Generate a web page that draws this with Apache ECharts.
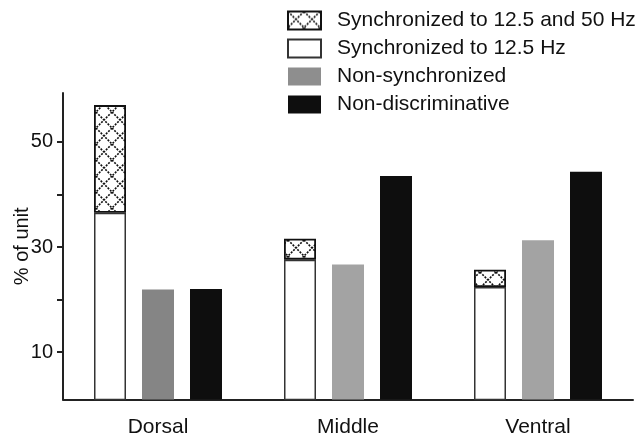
<!DOCTYPE html>
<html><head><meta charset="utf-8">
<script src="https://cdn.jsdelivr.net/npm/echarts@6/dist/echarts.min.js"></script>
<style>html,body{margin:0;padding:0;background:#fff}#c{width:636px;height:439px}</style>
</head><body><div id="c"></div>
<script>
const categories = ['Dorsal', 'Middle', 'Ventral'];
const sync12 = [36.5, 27.6, 22.4];
const syncBothExtra = [20.5, 4.0, 3.3];
const nonSync = [21.9, 26.7, 31.3];
const nonDisc = [22.0, 43.5, 44.3];
const yTickValues = [10, 20, 30, 40, 50];
const yLabelValues = [10, 30, 50];
const legendNames = ['Synchronized to 12.5 and 50 Hz', 'Synchronized to 12.5 Hz', 'Non-synchronized', 'Non-discriminative'];

function hatchCanvas() {
  const c = document.createElement('canvas');
  c.width = 16; c.height = 16;
  const g = c.getContext('2d');
  g.fillStyle = '#fff'; g.fillRect(0, 0, 16, 16);
  g.strokeStyle = '#111'; g.lineWidth = 1.6; g.setLineDash([2, 1.3]);
  g.beginPath(); g.moveTo(0, 0); g.lineTo(16, 16); g.moveTo(16, 0); g.lineTo(0, 16); g.stroke();
  return c;
}
const hatch = { image: hatchCanvas(), repeat: 'repeat' };
const FONT = "'Liberation Sans', Arial, sans-serif";

const chart = echarts.init(document.getElementById('c'), null, { renderer: 'canvas' });
chart.setOption({
  backgroundColor: '#fff',
  animation: false,
  textStyle: { fontFamily: FONT },
  grid: { left: 63, right: 3, top: 93, bottom: 39.5, outerBoundsMode: 'none' },
  legend: {
    orient: 'vertical', left: 287, top: 10, padding: 0, icon: 'rect',
    itemWidth: 33, itemHeight: 18, itemGap: 7,
    textStyle: { fontFamily: FONT, fontSize: 21, color: '#111', padding: [0, 0, 0, 11] },
    data: [
      { name: legendNames[0] },
      { name: legendNames[1] },
      { name: legendNames[2], itemStyle: { color: '#8e8e8e', borderWidth: 0 } },
      { name: legendNames[3] }
    ]
  },
  xAxis: {
    type: 'category', data: categories,
    axisLine: { lineStyle: { color: '#222', width: 2 } },
    axisTick: { show: false },
    axisLabel: { fontFamily: FONT, fontSize: 21, color: '#111', margin: 17 }
  },
  yAxis: {
    type: 'value', min: 1, max: 59.3,
    name: '% of unit', nameLocation: 'middle', nameGap: 31, nameRotate: 90, nameMoveOverlap: false,
    nameTextStyle: { fontFamily: FONT, fontSize: 20, color: '#111' },
    splitLine: { show: false },
    axisLine: { show: true, lineStyle: { color: '#222', width: 2 } },
    axisTick: { show: true, length: 6, customValues: yTickValues, lineStyle: { color: '#222', width: 2 } },
    axisLabel: { fontFamily: FONT, fontSize: 20, color: '#111', margin: 10, customValues: yLabelValues }
  },
  series: [
    {
      name: legendNames[1], type: 'bar', stack: 'sync', data: sync12, barWidth: 32, barGap: '50%',
      itemStyle: { color: '#fff', borderColor: '#333', borderWidth: 1.5 }
    },
    {
      name: legendNames[0], type: 'bar', stack: 'sync', data: syncBothExtra, barWidth: 32,
      itemStyle: { color: hatch, borderColor: '#111', borderWidth: 1.8 }
    },
    {
      name: legendNames[2], type: 'bar', data: nonSync, barWidth: 32,
      itemStyle: { color: p => p.dataIndex === 0 ? '#858585' : '#a3a3a3' }
    },
    {
      name: legendNames[3], type: 'bar', data: nonDisc, barWidth: 32,
      itemStyle: { color: '#0e0e0e' }
    }
  ]
});
</script></body></html>
